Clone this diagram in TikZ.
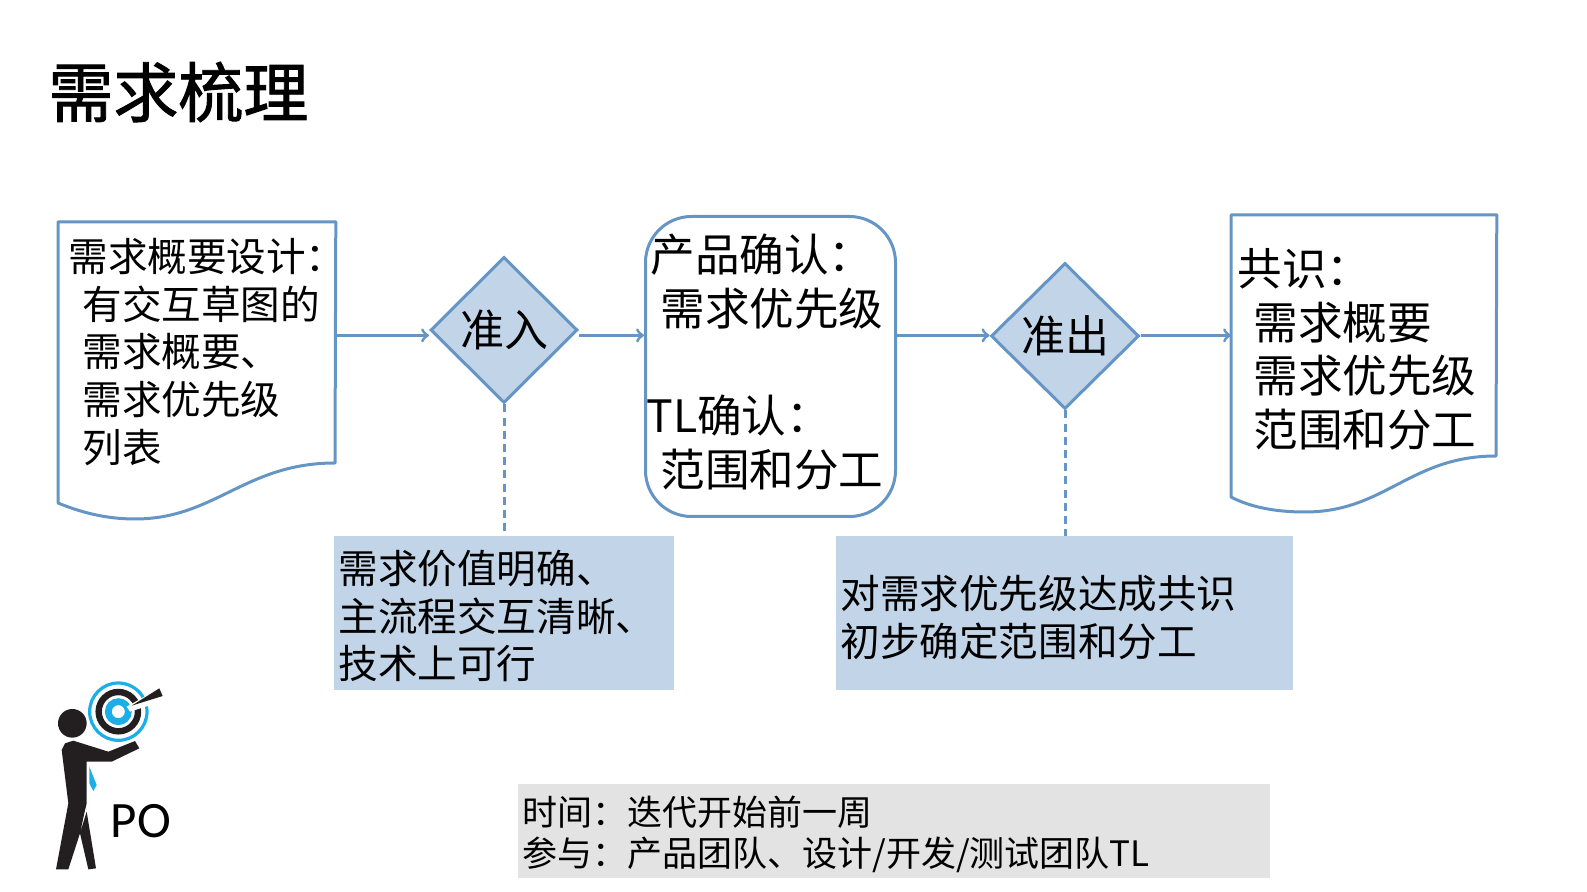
\documentclass[tikz,border=0pt]{standalone}
\usepackage{fontspec}
\setmainfont{Noto Sans CJK SC}
\newfontfamily\pofont{Carlito}
\newfontfamily\titlefont[FakeBold=1.4]{Noto Sans CJK SC}
\usetikzlibrary{shapes.geometric}

\definecolor{flowline}{HTML}{6495C4}
\definecolor{flowfill}{HTML}{C2D4E7}
\definecolor{notegray}{HTML}{E3E3E3}
\definecolor{poblue}{HTML}{1CAEE8}
\definecolor{poblack}{HTML}{231F20}

\tikzset{
    docline/.style={draw=flowline, line width=1.5pt, line join=round},
    flowarrow/.style={draw=flowline, line width=1.5pt, ->},
    gatelink/.style={draw=flowline, line width=1.5pt, dash pattern=on 4pt off 2.6pt},
    gate/.style={diamond, draw=flowline, fill=flowfill, line width=1.5pt, inner sep=0pt,
        font=\fontsize{22}{26}\selectfont},
    bodytext/.style={inner sep=0pt, align=left, anchor=north west,
        font=\fontsize{19.8}{23.8}\selectfont},
    bigtext/.style={inner sep=0pt, align=left, anchor=north west,
        font=\fontsize{22.3}{26.8}\selectfont},
    notebox/.style={fill=flowfill, anchor=north west, inner sep=0pt, minimum height=77pt},
}

\begin{document}
\begin{tikzpicture}[x=0.5pt, y=-0.5pt]

        \useasboundingbox
            (0,0) rectangle (1587,892);

        \node[inner sep=0pt, anchor=west, font=\titlefont\fontsize{32.5}{38}\selectfont] (title)
            at (48,92) {需求梳理};

        \node[minimum width=138.5pt, minimum height=113pt, inner sep=0pt, anchor=north west] (reqdoc)
            at (58,222) {};

        \draw[docline]
            (reqdoc.north west) -- (reqdoc.north east) -- (335,463)
            .. controls (245,463) and (215,519) .. (135,519)
            .. controls (105,519) and (80,512) .. (58,503) -- cycle;

        \node[bodytext] (reqtext)
            at (68,238) {需求概要设计：\\
                \hspace{7pt}有交互草图的\\
                \hspace{7pt}需求概要、\\
                \hspace{7pt}需求优先级\\
                \hspace{7pt}列表};

        \node[gate, minimum width=73.5pt, minimum height=73pt] (entry)
            at (504,330) {准入};

        \node[draw=flowline, line width=1.5pt, rounded corners=23pt, anchor=north west,
            minimum width=125pt, minimum height=150pt] (confirm)
            at (644,215) {};

        \node[bigtext] (confirmtext)
            at (650,234) {产品确认：\\
                \hspace{5pt}需求优先级\\[26.8pt]
                \hspace{-2pt}TL确认：\\
                \hspace{5pt}范围和分工};

        \node[gate, minimum width=74pt, minimum height=73pt] (exit)
            at (1065,336) {准出};

        \node[minimum width=132.5pt, minimum height=120pt, inner sep=0pt, anchor=north west] (sharedoc)
            at (1231,215) {};

        \draw[docline]
            (sharedoc.north west) -- (sharedoc.north east) -- (1496,456)
            .. controls (1410,456) and (1385,512) .. (1305,512)
            .. controls (1275,512) and (1250,507) .. (1231,497) -- cycle;

        \node[bigtext] (sharetext)
            at (1237,248) {共识：\\
                \hspace{8pt}需求概要\\
                \hspace{8pt}需求优先级\\
                \hspace{8pt}范围和分工};

        \node[notebox, minimum width=170pt] (entrybox)
            at (334,536) {};

        \node[bodytext] (entrytext)
            at (338,550) {需求价值明确、\\主流程交互清晰、\\技术上可行};

        \node[notebox, minimum width=228.5pt] (exitbox)
            at (836,536) {};

        \node[bodytext] (exittext)
            at (840,575) {对需求优先级达成共识\\初步确定范围和分工};

        \node[fill=notegray, anchor=north west, inner sep=0pt,
            minimum width=376pt, minimum height=47pt] (timebox)
            at (518,784) {};

        \node[inner sep=0pt, align=left, anchor=north west,
            font=\fontsize{17.5}{20.3}\selectfont] (timetext)
            at (522,796) {时间：迭代开始前一周\\参与：产品团队、设计/开发/测试团队TL};

        \draw[flowarrow]
            (reqdoc.east) -- (reqdoc.east -| entry.west);
        \draw[flowarrow]
            (reqdoc.east -| entry.east) -- (reqdoc.east -| confirm.west);
        \draw[flowarrow]
            (reqdoc.east -| confirm.east) -- (reqdoc.east -| exit.west);
        \draw[flowarrow]
            (reqdoc.east -| exit.east) -- (reqdoc.east -| sharedoc.west);

        \draw[gatelink]
            (entry.south) -- (entry.south |- entrybox.north);
        \draw[gatelink]
            (exit.south) -- (exit.south |- exitbox.north);

        \begin{scope}[shift={(30,660)}, x=0.16667pt, y=-0.16667pt]
            \fill[poblack]
                (127,190) circle[radius=43];
            \fill[poblack]
                (95,270) -- (105,250) -- (130,242) -- (235,275) -- (315,243) -- (328,265)
                -- (245,305) -- (170,305) -- (170,430) -- (163,460) -- (150,520)
                -- (115,628) -- (78,628) -- (115,430) -- cycle
                (170,455) -- (198,625) -- (175,628) -- (150,520) -- cycle;
            \fill[poblue]
                (178,320) -- (200,375) -- (190,393) -- (178,370) -- cycle;
            \draw[poblue, line width=1.6pt]
                (265,155) circle[radius=86];
            \draw[poblack, line width=3.2pt]
                (265,155) circle[radius=59];
            \draw[poblue, line width=3.4pt]
                (265,155) circle[radius=30];
            \fill[white]
                (290,140) -- (400,78) -- (410,120) -- (300,155) -- cycle;
            \fill[poblack]
                (305,137) -- (388,85) -- (398,108) -- cycle;
        \end{scope}

        \node[inner sep=0pt, font=\pofont\fontsize{25.5}{30}\selectfont] (polabel)
            at (141,821) {PO};

\end{tikzpicture}
\end{document}
